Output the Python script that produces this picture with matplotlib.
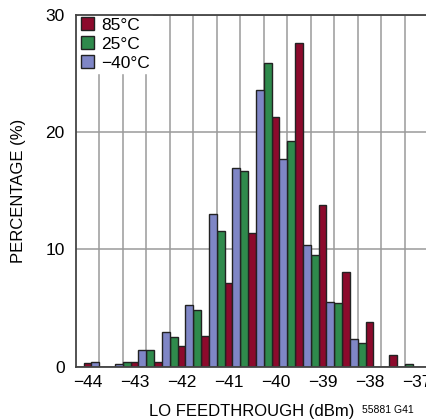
import numpy as np
import matplotlib
matplotlib.use("Agg")
import matplotlib.pyplot as plt

plt.rcParams['font.family'] = ['Liberation Sans Narrow', 'Liberation Sans', 'DejaVu Sans']

# bin positions (dBm), one group of three bars per bin
bins = [-44.25, -43.75, -43.25, -42.75, -42.25, -41.75, -41.25, -40.75,
        -40.25, -39.75, -39.25, -38.75, -38.25, -37.75, -37.25]
pct_85 = [0.3, 0, 0.4, 0.4, 1.8, 2.6, 7.1, 11.4, 21.3, 27.6, 13.8, 8.1, 3.8, 1.0, 0]
pct_25 = [0, 0, 0.4, 1.4, 2.5, 4.8, 11.6, 16.7, 25.9, 19.2, 9.5, 5.4, 2.0, 0, 0.2]
pct_m40 = [0, 0.4, 0.2, 1.4, 3.0, 5.3, 13.0, 16.9, 23.6, 17.7, 10.4, 5.5, 2.4, 0, 0]
labels = ['85°C', '25°C', '\u221240°C']
xticks = [-44, -43, -42, -41, -40, -39, -38, -37]

c_red = '#8c0a2c'
c_green = '#2f8a4c'
c_blue = '#7f86c6'

fig = plt.figure(figsize=(4.26, 4.19), dpi=100)
ax = fig.add_axes([0.1777, 0.1248, 0.8275, 0.840])

x = np.array(bins)
w = 1 / 6
ec = '#222222'
ax.bar(x + w / 2 + w, pct_85, width=w, color=c_red, edgecolor=ec, linewidth=1, label=labels[0], zorder=3)
ax.bar(x + w / 2, pct_25, width=w, color=c_green, edgecolor=ec, linewidth=1, label=labels[1], zorder=3)
ax.bar(x - w / 2, pct_m40, width=w, color=c_blue, edgecolor=ec, linewidth=1, label=labels[2], zorder=3)

ax.set_xlim(-44.25, -36.75)
ax.set_ylim(0, 30)
ax.set_xticks(xticks)
ax.set_xticklabels(['\u2212%d' % abs(t) for t in xticks])
ax.set_yticks([0, 10, 20, 30])
ax.set_xticks(np.arange(-43.75, -36.9, 0.5), minor=True)
ax.tick_params(which='both', length=0, labelsize=12.5, colors='black')
ax.tick_params(axis='x', pad=6)
ax.tick_params(axis='y', pad=8)
ax.grid(True, which='minor', axis='x', color='#9a9a9a', linewidth=1.1, zorder=0)
ax.grid(True, which='major', axis='y', color='#9a9a9a', linewidth=1.1, zorder=0)
ax.set_axisbelow(True)
for s in ax.spines.values():
    s.set_color('#444444')
    s.set_linewidth(1.3)
    s.set_zorder(6)

ax.set_xlabel('LO FEEDTHROUGH (dBm)', fontsize=12, labelpad=10)
ax.set_ylabel('PERCENTAGE (%)', fontsize=12, labelpad=14)

leg = ax.legend(loc='upper left', bbox_to_anchor=(0.008, 1.0), fontsize=12.5,
                frameon=True, fancybox=False,
                handlelength=0.75, handleheight=0.75, handletextpad=0.4,
                labelspacing=0.2, borderpad=0.15, borderaxespad=0)
leg.get_frame().set_edgecolor('white')
leg.get_frame().set_alpha(1)
leg.set_zorder(5)

fig.text(0.91, 0.022, '55881 G41', fontsize=7.5, ha='center', va='center')

fig.savefig('out.png', dpi=100)
